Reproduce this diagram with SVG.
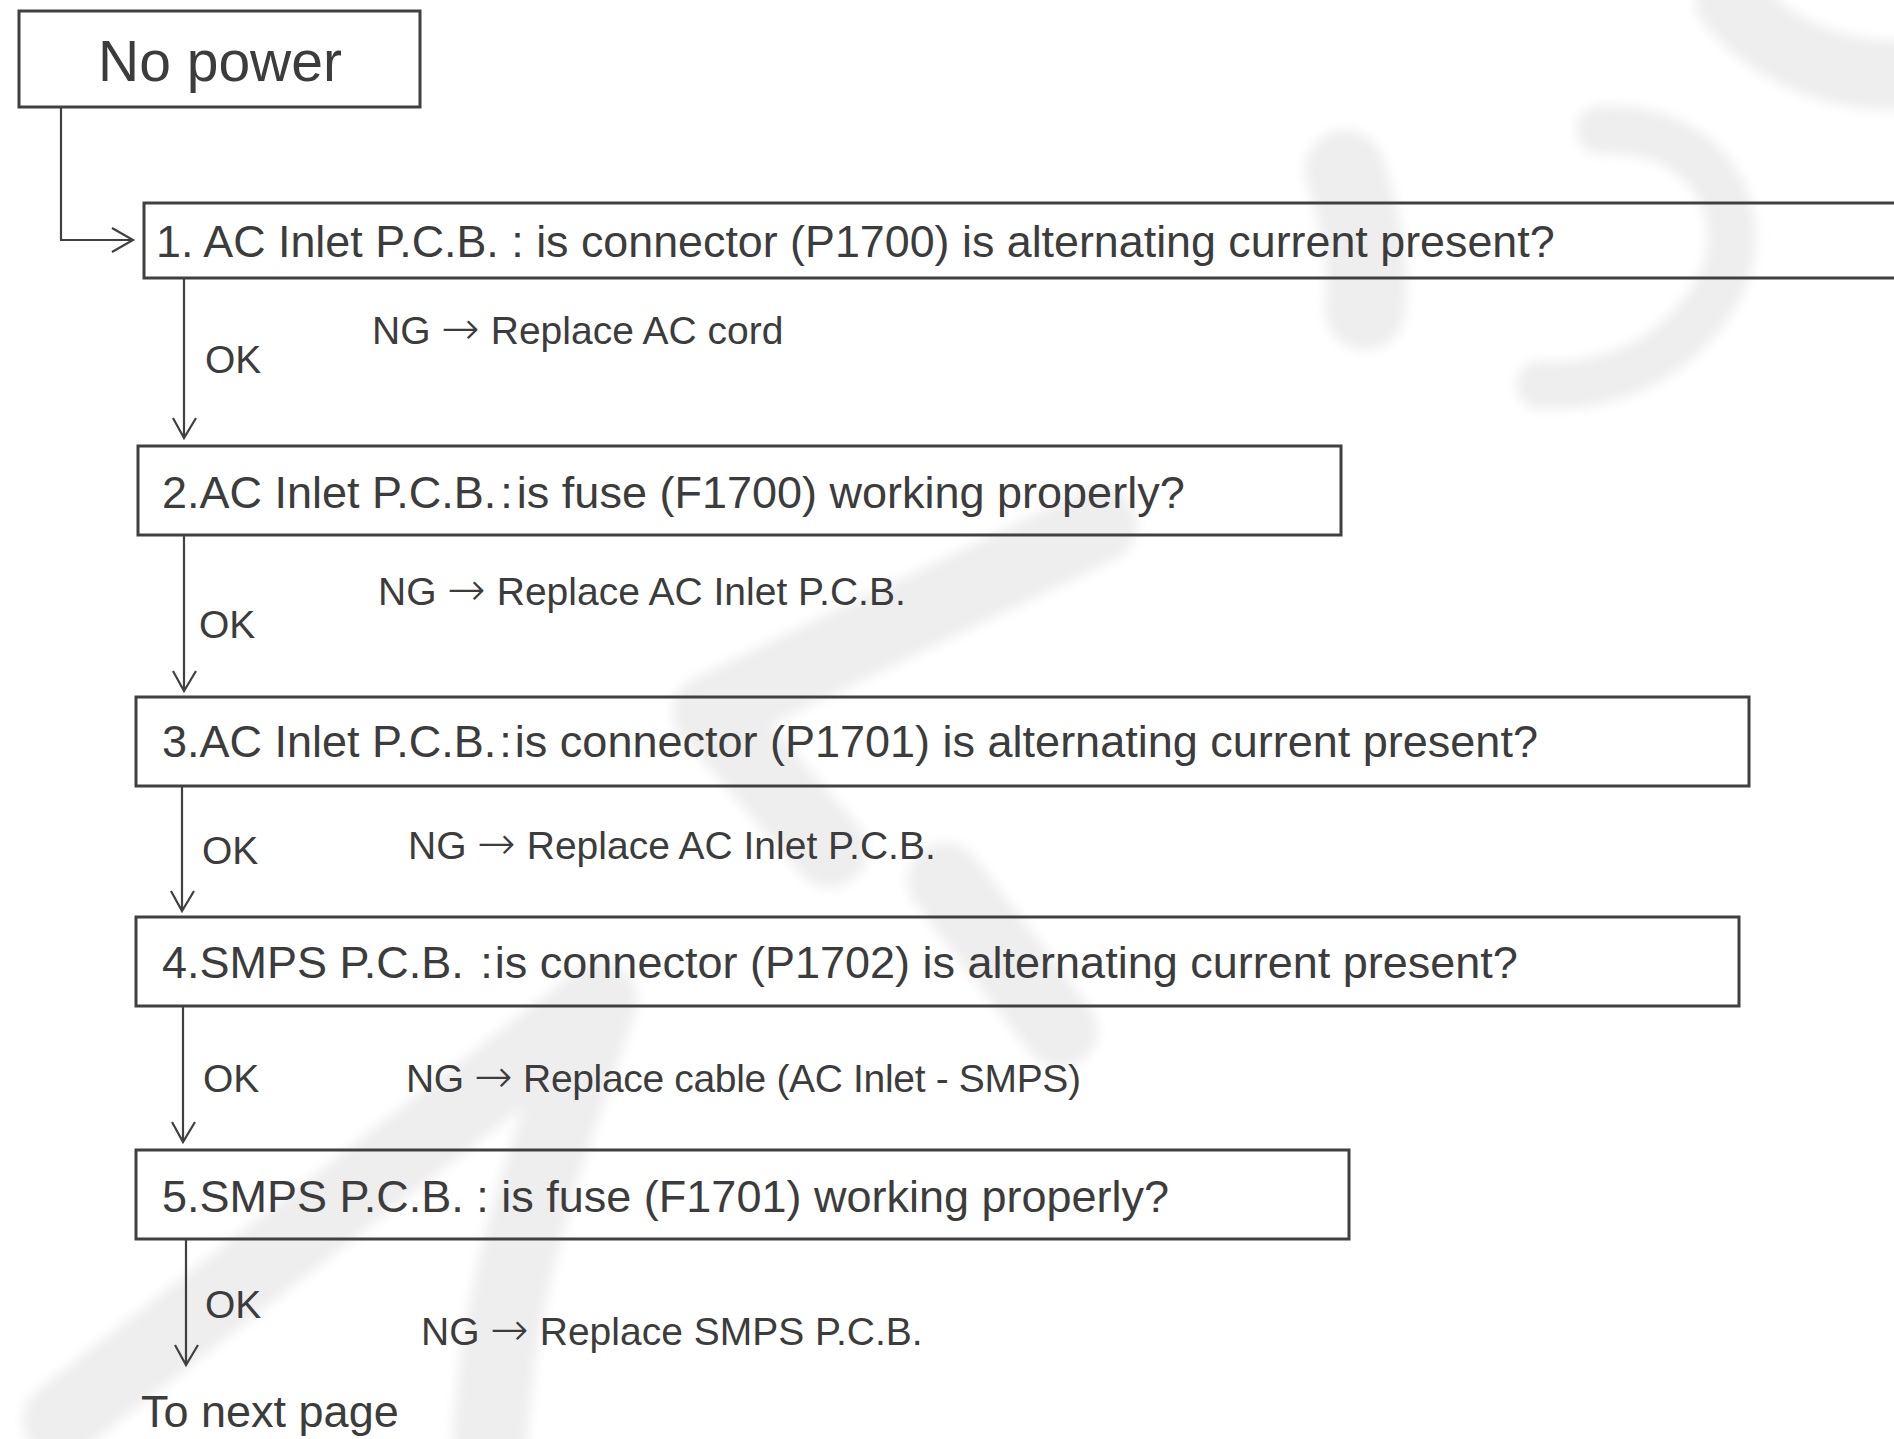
<svg xmlns="http://www.w3.org/2000/svg" width="1894" height="1439" viewBox="0 0 1894 1439">
<defs>
  <filter id="soft" x="-10%" y="-10%" width="120%" height="120%">
    <feGaussianBlur stdDeviation="6"/>
  </filter>
</defs>
<style>
  .box { fill: none; stroke: #404040; stroke-width: 3; }
  .t { font-family: "Liberation Sans", Arial, sans-serif; fill: #3c3c3c; }
  .q { font-size: 45px; }
  .lab { font-size: 39px; }
  .arr { font-family: "DejaVu Sans", sans-serif; font-size: 46px; font-weight: 200; }
  .conn { fill: none; stroke: #404040; stroke-width: 2.2; }
  .wm { fill: none; stroke: #eeeeee; stroke-linecap: round; stroke-linejoin: round; }
</style>
<rect width="1894" height="1439" fill="#ffffff"/>
<g id="watermark" filter="url(#soft)">
  <path class="wm" stroke-width="75" d="M60,1420 L600,1000"/>
  <path class="wm" stroke-width="75" d="M600,1000 C560,1120 500,1260 490,1439"/>
  <path class="wm" stroke-width="75" d="M1100,525 L710,712 L830,850"/>
  <path class="wm" stroke-width="75" d="M945,880 L1060,1030"/>
  <path class="wm" stroke-width="48" d="M1600,130 C1720,125 1760,230 1712,300 C1672,360 1612,388 1540,385"/>
  <path class="wm" stroke-width="70" d="M1730,0 C1770,50 1830,75 1894,75"/>
  <path class="wm" stroke-width="80" d="M1345,170 C1360,220 1370,260 1365,310"/>
</g>
<g id="connectors">
  <path class="conn" d="M61,107 V240 H133 M112,228 L133,240 L112,252"/>
  <path class="conn" d="M184,278 V438 M173,418 L184,438 L196,418"/>
  <path class="conn" d="M184,535 V691 M173,671 L184,691 L196,671"/>
  <path class="conn" d="M182,786 V911 M171,891 L182,911 L194,891"/>
  <path class="conn" d="M183,1006 V1142 M172,1122 L183,1142 L195,1122"/>
  <path class="conn" d="M186,1239 V1365 M175,1345 L186,1365 L198,1345"/>
</g>
<g id="node-start">
  <rect class="box" x="19" y="11" width="401" height="96"/>
  <text class="t" x="220" y="81" font-size="57" text-anchor="middle">No power</text>
</g>
<g id="node-1">
  <rect class="box" x="144" y="203" width="1760" height="75"/>
  <text class="t" x="156" y="257" font-size="44.8">1. AC Inlet P.C.B. : is connector (P1700) is alternating current present?</text>
</g>
<g id="node-2">
  <rect class="box" x="138" y="446" width="1203" height="89"/>
  <text class="t q" x="162" y="508">2.AC Inlet P.C.B.<tspan dx="4">:</tspan><tspan dx="4">is fuse (F1700) working properly?</tspan></text>
</g>
<g id="node-3">
  <rect class="box" x="136" y="697" width="1613" height="89"/>
  <text class="t q" x="162" y="757">3.AC Inlet P.C.B.<tspan dx="3">:</tspan><tspan dx="3">is connector (P1701) is alternating current present?</tspan></text>
</g>
<g id="node-4">
  <rect class="box" x="136" y="917" width="1603" height="89"/>
  <text class="t q" x="162" y="978">4.SMPS P.C.B. <tspan dx="4">:</tspan><tspan dx="2">is connector (P1702) is alternating current present?</tspan></text>
</g>
<g id="node-5">
  <rect class="box" x="136" y="1150" width="1213" height="89"/>
  <text class="t q" x="162" y="1212">5.SMPS P.C.B. : is fuse (F1701) working properly?</text>
</g>
<g id="labels">
  <text class="t lab" x="205" y="373">OK</text>
  <text class="t lab" x="372" y="344">NG <tspan class="arr">→</tspan> Replace AC cord</text>
  <text class="t lab" x="199" y="638">OK</text>
  <text class="t lab" x="378" y="605">NG <tspan class="arr">→</tspan> Replace AC Inlet P.C.B.</text>
  <text class="t lab" x="202" y="864">OK</text>
  <text class="t lab" x="408" y="859">NG <tspan class="arr">→</tspan> Replace AC Inlet P.C.B.</text>
  <text class="t lab" x="203" y="1092">OK</text>
  <text class="t lab" x="406" y="1092" textLength="675" lengthAdjust="spacing">NG <tspan class="arr">→</tspan> Replace cable (AC Inlet - SMPS)</text>
  <text class="t lab" x="205" y="1318">OK</text>
  <text class="t lab" x="421" y="1345">NG <tspan class="arr">→</tspan> Replace SMPS P.C.B.</text>
</g>
<g id="node-end">
  <text class="t" x="141" y="1427" font-size="45">To next page</text>
</g>
</svg>
